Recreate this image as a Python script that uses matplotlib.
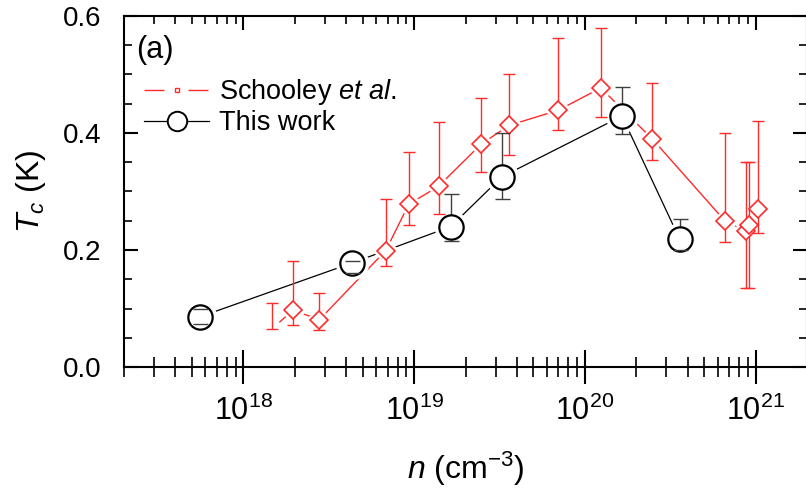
import matplotlib
matplotlib.use("Agg")
import matplotlib.pyplot as plt
from matplotlib.lines import Line2D
from matplotlib.ticker import LogLocator, MultipleLocator, FormatStrFormatter, NullFormatter
import numpy as np

plt.rcParams["font.family"] = ["Liberation Sans", "DejaVu Sans"]
plt.rcParams["mathtext.fontset"] = "custom"
plt.rcParams["mathtext.rm"] = "Liberation Sans"
plt.rcParams["mathtext.it"] = "Liberation Sans:italic"

# Schooley et al. (first point has no symbol in the reference)
sch_n = [1.47e18, 1.95e18, 2.79e18, 6.82e18, 9.3e18, 1.39e19, 2.47e19, 3.6e19,
         7.0e19, 1.24e20, 2.48e20, 6.6e20, 8.83e20, 9.2e20, 1.03e21]
sch_tc = [0.065, 0.097, 0.081, 0.199, 0.278, 0.309, 0.381, 0.413,
          0.439, 0.477, 0.390, 0.250, 0.232, 0.243, 0.270]
sch_lo = [0.065, 0.072, 0.063, 0.173, 0.242, 0.262, 0.334, 0.363,
          0.405, 0.428, 0.353, 0.213, 0.135, 0.135, 0.229]
sch_hi = [0.110, 0.182, 0.127, 0.288, 0.367, 0.419, 0.459, 0.500,
          0.562, 0.580, 0.485, 0.400, 0.350, 0.350, 0.420]

# This work
tw_n = [5.6e17, 4.35e18, 1.64e19, 3.26e19, 1.65e20, 3.6e20]
tw_tc = [0.086, 0.178, 0.240, 0.325, 0.429, 0.218]
tw_lo = [0.074, 0.161, 0.216, 0.288, 0.399, 0.200]
tw_hi = [0.100, 0.182, 0.295, 0.400, 0.478, 0.253]

xlim = (2e17, 2e21)
red = "#ff2a2a"

fig = plt.figure(figsize=(8.06, 4.88), dpi=100)
ax = fig.add_axes([124 / 806, 1 - 367 / 488, 683 / 806, 351 / 488])

# connecting lines
ax.plot(sch_n, sch_tc, color=red, lw=1.0, zorder=2)
ax.plot(tw_n, tw_tc, color="black", lw=0.9, zorder=2)

# white halos to give the gaps around the symbols
ax.plot(sch_n, sch_tc, ls="none", marker="D", ms=13, mfc="white", mec="white", zorder=3)
ax.plot(tw_n, tw_tc, ls="none", marker="o", ms=23, mfc="white", mec="white", zorder=3)

# error bars
for n, tc, lo, hi, col, cs in [(sch_n, sch_tc, sch_lo, sch_hi, red, 4.3),
                                (tw_n, tw_tc, tw_lo, tw_hi, "#404040", 5.4)]:
    tc = np.array(tc)
    yerr = [tc - np.array(lo), np.array(hi) - tc]
    eb = ax.errorbar(n, tc, yerr=yerr, fmt="none", ecolor=col, elinewidth=1.0,
                     capsize=cs, capthick=1.0)
    for c in eb[2]:
        c.set_zorder(4)
    for c in eb[1]:
        c.set_zorder(6)

# symbols
ax.plot(sch_n, sch_tc, ls="none", marker="D", ms=9.5, mfc="white", mec=red,
        mew=1.2, markevery=list(range(1, len(sch_n))), zorder=5)
ax.plot(tw_n, tw_tc, ls="none", marker="o", ms=17.5, mfc="white", mec="black",
        mew=1.6, zorder=5)

ax.set_xscale("log")
ax.set_xlim(*xlim)
ax.set_ylim(0, 0.6)

ax.xaxis.set_major_locator(LogLocator(base=10, numticks=10))
ax.xaxis.set_minor_locator(LogLocator(base=10, subs=np.arange(2, 10), numticks=50))
ax.xaxis.set_minor_formatter(NullFormatter())
ax.yaxis.set_major_locator(MultipleLocator(0.2))
ax.yaxis.set_minor_locator(MultipleLocator(0.05))
ax.yaxis.set_major_formatter(FormatStrFormatter("%.1f"))

ax.tick_params(axis="x", which="both", top=False, direction="inout", labelsize=22, pad=9)
ax.tick_params(axis="x", which="major", length=24, width=1.5)
ax.tick_params(axis="x", which="minor", length=14, width=1.2)
ax.tick_params(axis="y", which="both", right=True, direction="in", labelsize=20, pad=16)
ax.tick_params(axis="y", which="major", length=10, width=1.5)
ax.tick_params(axis="y", which="minor", length=6, width=1.2)
for s in ax.spines.values():
    s.set_linewidth(1.5)

# top axis ticks point inward only
top = ax.twiny()
top.set_xscale("log")
top.set_xlim(*xlim)
top.xaxis.set_major_locator(LogLocator(base=10, numticks=10))
top.xaxis.set_minor_locator(LogLocator(base=10, subs=np.arange(2, 10), numticks=50))
top.tick_params(axis="x", which="both", direction="in", labeltop=False)
top.tick_params(axis="x", which="major", length=10, width=1.5)
top.tick_params(axis="x", which="minor", length=6, width=1.2)
for s in top.spines.values():
    s.set_visible(False)

ax.set_xlabel(r"$n$ (cm$^{-3}$)", fontsize=23)
ax.set_ylabel(r"$T_c$ (K)", fontsize=23)
ax.xaxis.set_label_coords(0.5, -0.235)
ax.yaxis.set_label_coords(-0.112, 0.5)

ax.text(0.018, 0.903, "(a)", transform=ax.transAxes, fontsize=22, ha="left", va="center")

h_sch = Line2D([], [], color=red, lw=1.0, ls=(0, (14.4, 17.3)), marker="s", ms=3.5,
               mfc="white", mec=red, mew=1.0)
h_tw = Line2D([], [], color="black", lw=0.9, marker="o", ms=14, mfc="white",
              mec="black", mew=1.4)
ax.legend([h_sch, h_tw], [r"Schooley $\it{et\ al.}$", "This work"],
          loc="upper left", bbox_to_anchor=(0.03, 0.825), frameon=False, fontsize=19.5,
          handlelength=2.4, handletextpad=0.35, labelspacing=0.1, borderpad=0,
          borderaxespad=0, numpoints=1)

fig.savefig("out.png", dpi=100)
